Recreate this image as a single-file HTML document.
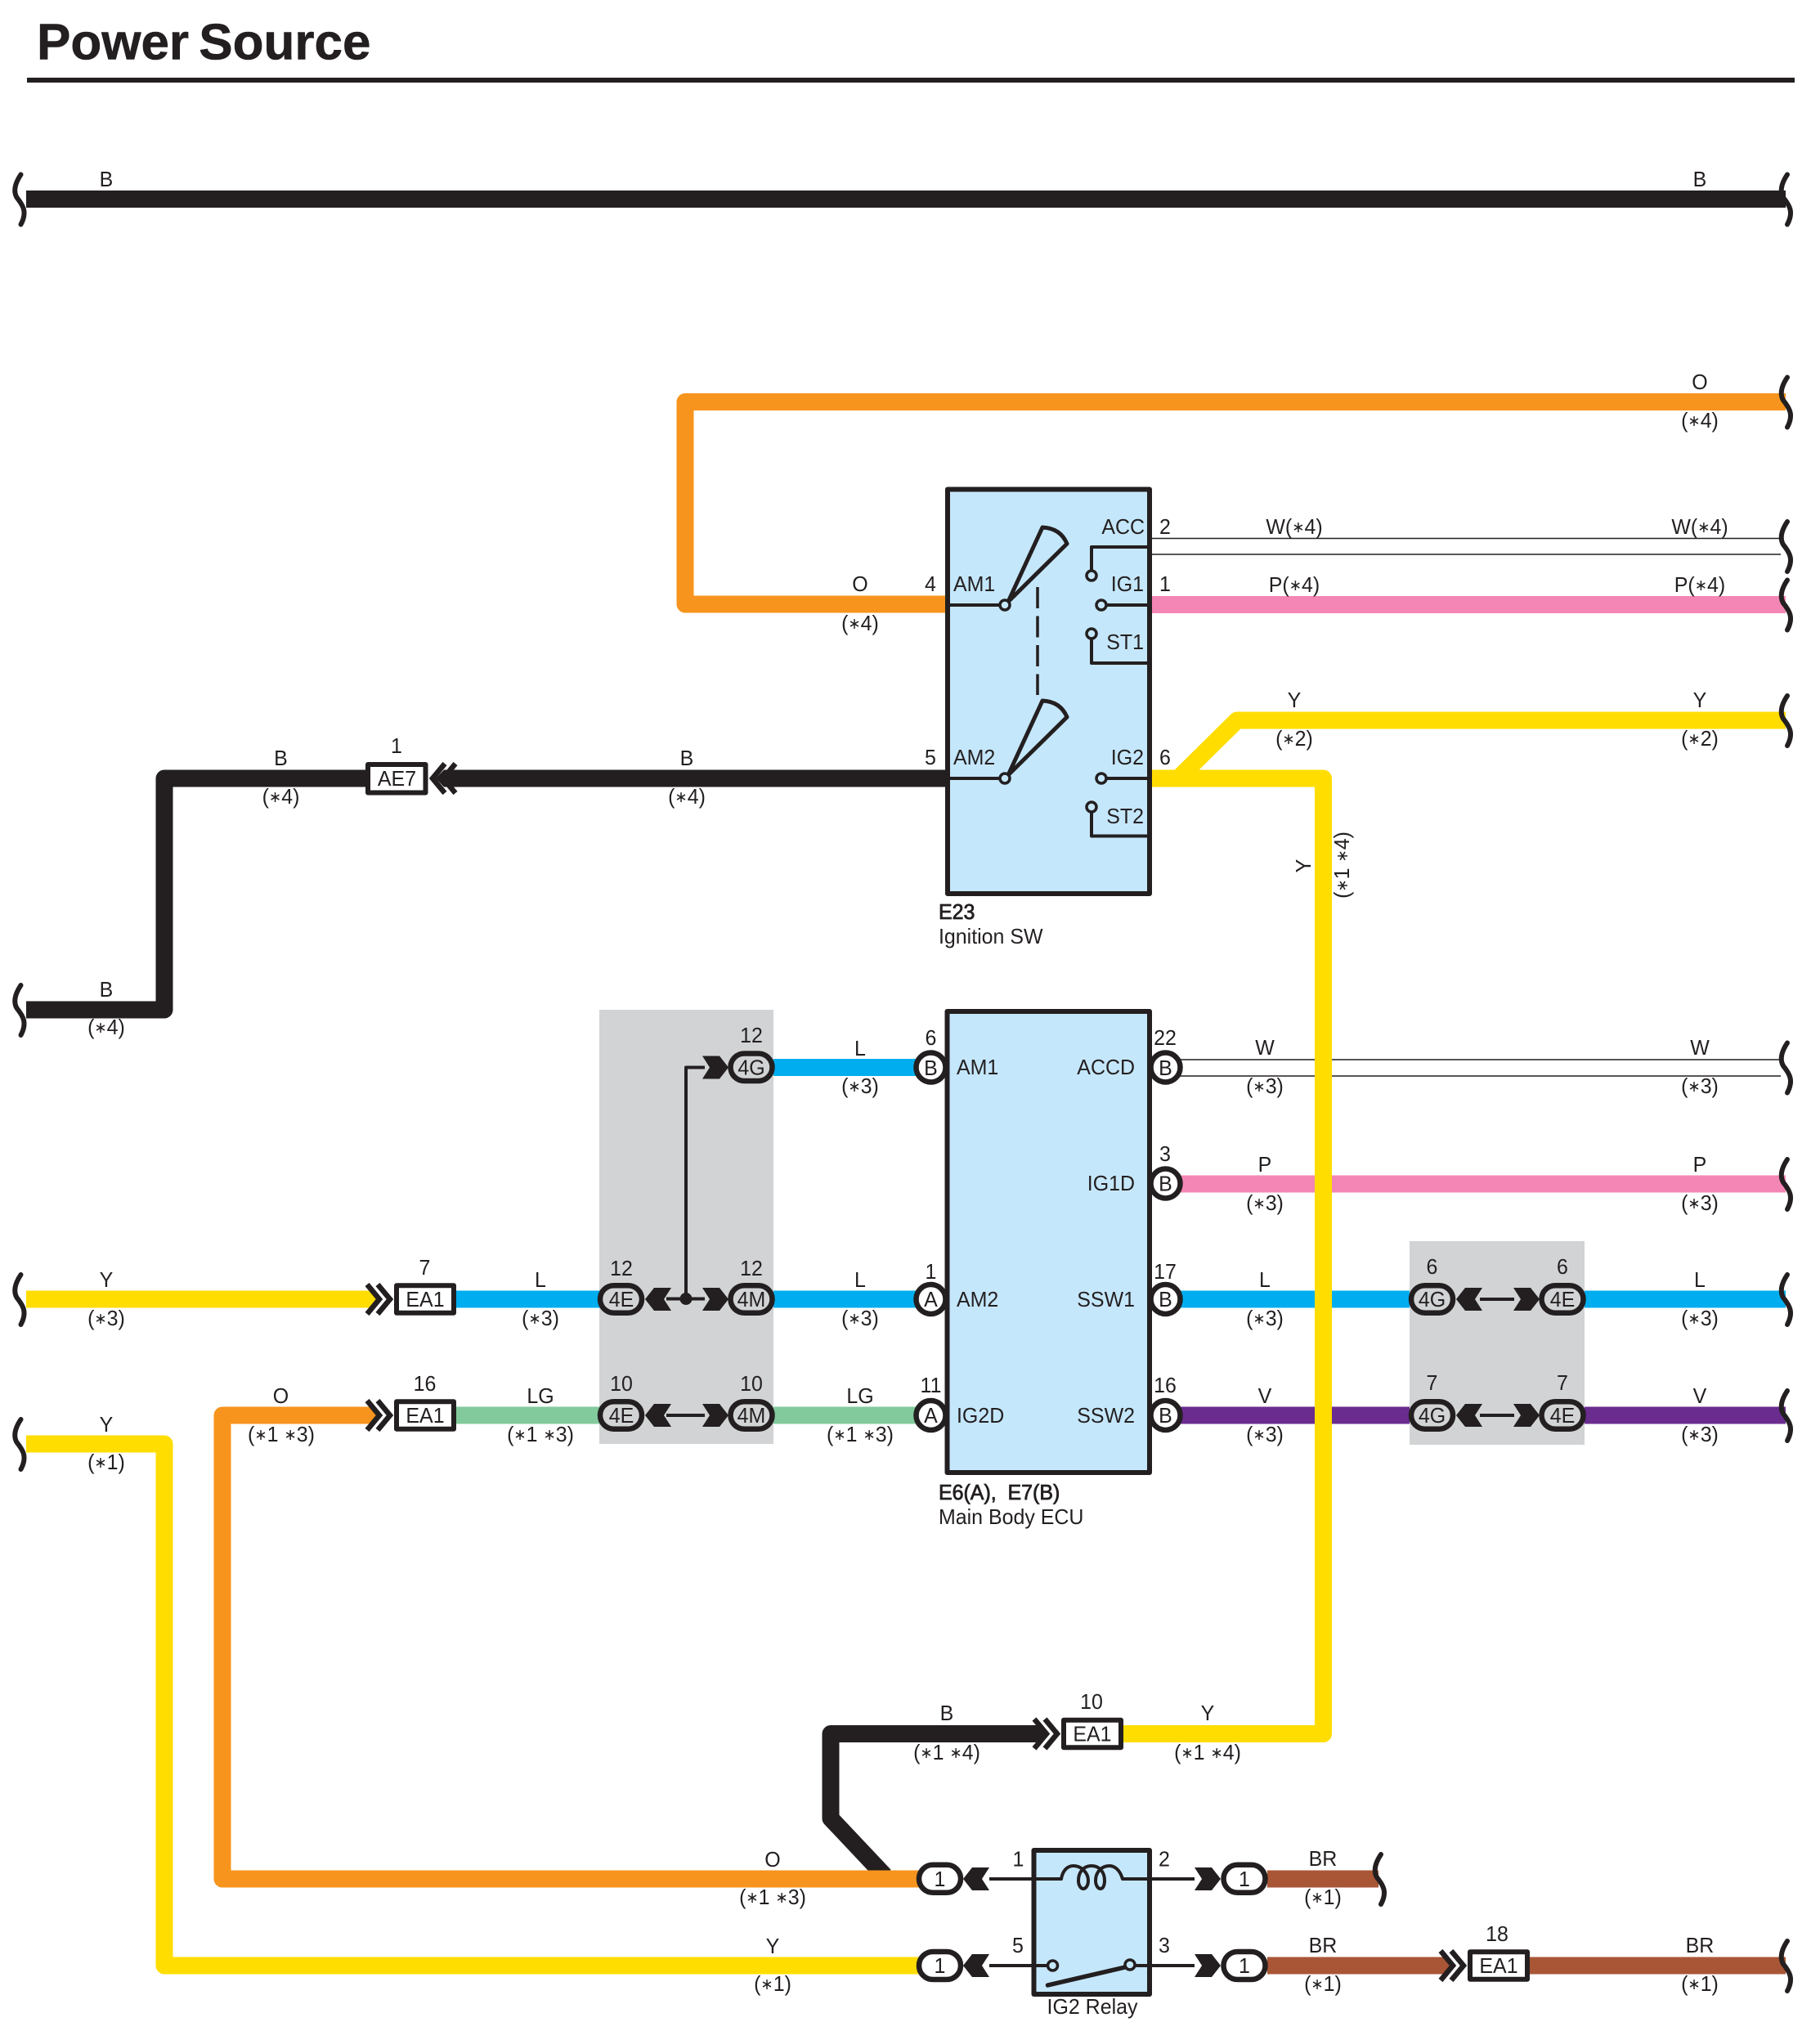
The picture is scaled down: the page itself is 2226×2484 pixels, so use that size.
<!DOCTYPE html>
<html><head><meta charset="utf-8"><title>Power Source</title>
<style>
html,body{margin:0;padding:0;background:#fff}
svg{display:block}
text{font-family:"Liberation Sans",sans-serif;font-size:26px;fill:#231f20;text-anchor:middle;transform-box:fill-box;transform-origin:center;transform:scaleX(.96)}
text.s{text-anchor:start;transform-origin:left center}
text.e{text-anchor:end;transform-origin:right center}
text.b{stroke:#231f20;stroke-width:.8px}
text.h{font-size:62px;font-weight:bold;text-anchor:start;transform:none;word-spacing:-5px;stroke:#231f20;stroke-width:.6px}
tspan.a{font-size:19px;baseline-shift:2px}
.w{fill:none;stroke-width:21;stroke-linejoin:round;stroke-linecap:butt}
.bk{stroke:#231f20}.or{stroke:#f7941d}.ye{stroke:#ffdd00}.bl{stroke:#00aeef}.pk{stroke:#f386b5}.lg{stroke:#82ca9c}.vi{stroke:#6a2c8f}.br{stroke:#a95636}
.l{fill:none;stroke:#231f20;stroke-width:4;stroke-linejoin:round}
.th{fill:none;stroke:#231f20;stroke-width:1.5}
.box{fill:#c5e7fb;stroke:#231f20;stroke-width:6;stroke-linejoin:round}
.c{fill:#c5e7fb;stroke:#231f20;stroke-width:3.5}
.ov{fill:#d1d3d4;stroke:#231f20;stroke-width:6.5}
.ow{fill:#fff;stroke:#231f20;stroke-width:6.5}
.pin{fill:#fff;stroke:#231f20;stroke-width:6.5}
.ea{fill:#fff;stroke:#231f20;stroke-width:6;stroke-linejoin:round}
</style></head><body>
<svg xmlns="http://www.w3.org/2000/svg" width="2226" height="2484" viewBox="0 0 2226 2484">
<defs>
<path id="sq" d="M0,-30C-8,-18 -9,-9 -5,-2C3,8 8,16 0,31" fill="none" stroke="#231f20" stroke-width="6" stroke-linecap="round"/>
<polygon id="ar" points="-32,-14 -11,-14 0,0 -11,14 -32,14 -23,0" fill="#231f20"/>
<polygon id="al" points="32,-14 11,-14 0,0 11,14 32,14 23,0" fill="#231f20"/>
<g id="cr" fill="none" stroke="#231f20" stroke-width="6.5"><polyline points="-33,-18 -18,0 -33,18"/><polyline points="-20,-18 -5,0 -20,18"/></g>
<g id="cl" fill="none" stroke="#231f20" stroke-width="6.5"><polyline points="33,-18 18,0 33,18"/><polyline points="20,-18 5,0 20,18"/></g>
<g id="blade" fill="none" stroke="#231f20" stroke-width="5" stroke-linejoin="round"><path d="M1233,736L1275,645Q1297,646 1305,665Z"/></g>
</defs>

<text class="h" x="45" y="72.5">Power Source</text>
<rect x="33" y="95" width="2162" height="6" fill="#231f20"/>

<!-- grey panels -->
<rect x="733" y="1235" width="213" height="531" fill="#d1d3d4"/>
<rect x="1724" y="1518" width="214" height="249" fill="#d1d3d4"/>

<!-- wires -->
<path class="w bk" d="M32,243.5H2184"/>
<path class="w or" d="M2184,491.5H838V739H1156"/>
<line class="th" x1="1409" y1="658.5" x2="2178" y2="658.5"/>
<line class="th" x1="1409" y1="678" x2="2178" y2="678"/>
<path class="w pk" d="M1409,739.5H2184"/>
<path class="w bk" d="M32,1235H201V952H447"/>
<path class="w bk" d="M546,952H1156"/>
<polygon points="546,941.5 543,941.5 533,952 543,962.5 546,962.5" fill="#231f20"/>
<line class="th" x1="1440" y1="1296" x2="2178" y2="1296"/>
<line class="th" x1="1440" y1="1316" x2="2178" y2="1316"/>
<path class="w pk" d="M1444,1448H2184"/>
<path class="w bl" d="M946,1305.5H1120"/>
<path class="w bl" d="M1440,1589H1724"/>
<path class="w bl" d="M1938,1589H2184"/>
<path class="w vi" d="M1440,1731H1724"/>
<path class="w vi" d="M1938,1731H2184"/>
<path class="w ye" d="M32,1589H450"/>
<polygon points="448,1578.5 451,1578.5 461.5,1589 451,1599.5 448,1599.5" fill="#ffdd00"/>
<path class="w bl" d="M557,1589H735"/>
<path class="w bl" d="M946,1589H1120"/>
<path class="w lg" d="M557,1731H735"/>
<path class="w lg" d="M946,1731H1120"/>
<path class="w bk" d="M1268,2120.5H1016V2224L1082,2294"/>
<polygon points="1264,2110 1267,2110 1277.5,2120.5 1267,2131 1264,2131" fill="#231f20"/>
<path class="w or" d="M450,1731H272V2298H1125"/>
<polygon points="448,1720.5 451,1720.5 461.5,1731 451,1741.5 448,1741.5" fill="#f7941d"/>
<path class="w ye" d="M32,1766H201V2404H1125"/>
<path class="w ye" d="M2184,881H1513L1441,952"/>
<path class="w ye" d="M1409,952H1618.5V2120.5H1373"/>
<path class="w br" d="M1550,2298H1686"/>
<path class="w br" d="M1550,2404H1765"/>
<polygon points="1763,2393.5 1766,2393.5 1776.5,2404 1766,2414.5 1763,2414.5" fill="#a95636"/>
<path class="w br" d="M1870,2404H2184"/>

<!-- squiggles -->
<use href="#sq" x="25.5" y="243.5"/><use href="#sq" x="25.5" y="1235"/><use href="#sq" x="25.5" y="1589"/><use href="#sq" x="25.5" y="1766"/>
<use href="#sq" x="2186" y="243.5"/><use href="#sq" x="2186" y="491.5"/><use href="#sq" x="2186" y="668"/><use href="#sq" x="2186" y="739.5"/><use href="#sq" x="2186" y="881"/><use href="#sq" x="2186" y="1305.5"/><use href="#sq" x="2186" y="1448"/><use href="#sq" x="2186" y="1589"/><use href="#sq" x="2186" y="1731"/><use href="#sq" x="2186" y="2404"/><use href="#sq" x="1689" y="2298"/>

<!-- Ignition SW -->
<rect class="box" x="1159" y="598.5" width="247" height="494.5"/>
<path class="l" d="M1159,740H1222M1354,740H1406M1159,952H1222M1354,952H1406M1406,669H1335V698M1335,781V811H1406M1335,993V1022.5H1406"/>
<use href="#blade"/><use href="#blade" y="212"/>
<line x1="1269" y1="718" x2="1269" y2="850" stroke="#231f20" stroke-width="3.5" stroke-dasharray="26 9.5"/>
<circle class="c" cx="1229" cy="740" r="6"/><circle class="c" cx="1229" cy="952" r="6"/>
<circle class="c" cx="1335" cy="704" r="6"/><circle class="c" cx="1347" cy="740" r="6"/><circle class="c" cx="1335" cy="775" r="6"/>
<circle class="c" cx="1347" cy="952" r="6"/><circle class="c" cx="1335" cy="987" r="6"/>
<text class="s" x="1166" y="723">AM1</text><text class="s" x="1166" y="935">AM2</text>
<text class="e" x="1400" y="653">ACC</text><text class="e" x="1399" y="723">IG1</text><text class="e" x="1399" y="794">ST1</text><text class="e" x="1399" y="935">IG2</text><text class="e" x="1399" y="1007">ST2</text>
<text x="1138" y="723">4</text><text x="1138" y="935">5</text><text x="1425" y="653">2</text><text x="1425" y="723">1</text><text x="1425" y="935">6</text>
<text class="s b" x="1148" y="1124">E23</text><text class="s" x="1148" y="1154">Ignition SW</text>

<!-- Main Body ECU -->
<rect class="box" x="1158.5" y="1237" width="247.5" height="564"/>
<circle class="pin" cx="1138.5" cy="1305.5" r="18"/><circle class="pin" cx="1138.5" cy="1589" r="18"/><circle class="pin" cx="1138.5" cy="1731" r="18"/>
<circle class="pin" cx="1425.5" cy="1305.5" r="18"/><circle class="pin" cx="1425.5" cy="1447.5" r="18"/><circle class="pin" cx="1425.5" cy="1589" r="18"/><circle class="pin" cx="1425.5" cy="1731" r="18"/>
<text x="1138.5" y="1315">B</text><text x="1138.5" y="1598">A</text><text x="1138.5" y="1740">A</text>
<text x="1425.5" y="1315">B</text><text x="1425.5" y="1456.5">B</text><text x="1425.5" y="1598">B</text><text x="1425.5" y="1740">B</text>
<text class="s" x="1170" y="1314">AM1</text><text class="s" x="1170" y="1598">AM2</text><text class="s" x="1170" y="1740">IG2D</text>
<text class="e" x="1388" y="1314">ACCD</text><text class="e" x="1388" y="1456">IG1D</text><text class="e" x="1388" y="1598">SSW1</text><text class="e" x="1388" y="1740">SSW2</text>
<text x="1138.5" y="1278">6</text><text x="1138.5" y="1564">1</text><text x="1138.5" y="1703">11</text>
<text x="1425" y="1278">22</text><text x="1425" y="1420">3</text><text x="1425" y="1564">17</text><text x="1425" y="1703">16</text>
<text class="s b" x="1148" y="1834">E6(A),&#160; E7(B)</text><text class="s" x="1148" y="1864">Main Body ECU</text>

<!-- left junction panel -->
<path class="l" d="M839,1588.5V1305.5H862M815,1588.5H862M815,1731H862"/>
<circle cx="839" cy="1588.5" r="7.5" fill="#231f20"/>
<use href="#ar" x="891" y="1305.5"/><use href="#ar" x="891" y="1589"/><use href="#ar" x="891" y="1731"/>
<use href="#al" x="789" y="1589"/><use href="#al" x="789" y="1731"/>
<rect class="ov" x="893.5" y="1288.5" width="51" height="33.5" rx="16.7"/><rect class="ov" x="893.5" y="1572.2" width="51" height="33.5" rx="16.7"/><rect class="ov" x="893.5" y="1714.2" width="51" height="33.5" rx="16.7"/>
<rect class="ov" x="734" y="1572.2" width="51" height="33.5" rx="16.7"/><rect class="ov" x="734" y="1714.2" width="51" height="33.5" rx="16.7"/>
<text x="919" y="1314.5">4G</text><text x="919" y="1598">4M</text><text x="919" y="1740">4M</text><text x="760" y="1598">4E</text><text x="760" y="1740">4E</text>
<text x="919" y="1275">12</text><text x="919" y="1560">12</text><text x="760" y="1560">12</text><text x="919" y="1701">10</text><text x="760" y="1701">10</text>

<!-- right junction panel -->
<path class="l" d="M1810,1589H1852M1810,1731H1852"/>
<use href="#al" x="1781" y="1589"/><use href="#al" x="1781" y="1731"/><use href="#ar" x="1883" y="1589"/><use href="#ar" x="1883" y="1731"/>
<rect class="ov" x="1726" y="1572.2" width="51" height="33.5" rx="16.7"/><rect class="ov" x="1726" y="1714.2" width="51" height="33.5" rx="16.7"/>
<rect class="ov" x="1885.5" y="1572.2" width="51" height="33.5" rx="16.7"/><rect class="ov" x="1885.5" y="1714.2" width="51" height="33.5" rx="16.7"/>
<text x="1751.5" y="1598">4G</text><text x="1751.5" y="1740">4G</text><text x="1911" y="1598">4E</text><text x="1911" y="1740">4E</text>
<text x="1751.5" y="1558">6</text><text x="1911" y="1558">6</text><text x="1751.5" y="1700">7</text><text x="1911" y="1700">7</text>

<!-- inline connectors -->
<use href="#cl" x="524" y="952"/>
<rect class="ea" x="450" y="935" width="70.5" height="34.5"/><text x="485.5" y="961">AE7</text><text x="485" y="921">1</text>
<use href="#cr" x="482" y="1589"/>
<rect class="ea" x="485" y="1572.3" width="70" height="33.5"/><text x="520" y="1598">EA1</text><text x="519.5" y="1559">7</text>
<use href="#cr" x="482" y="1731"/>
<rect class="ea" x="485" y="1714.3" width="70" height="33.5"/><text x="520" y="1740">EA1</text><text x="519.5" y="1701">16</text>
<use href="#cr" x="1298" y="2120.5"/>
<rect class="ea" x="1301" y="2103.8" width="70" height="33.5"/><text x="1336" y="2129.5">EA1</text><text x="1335" y="2090">10</text>
<use href="#cr" x="1795" y="2404"/>
<rect class="ea" x="1798" y="2387.3" width="70" height="33.5"/><text x="1833" y="2413">EA1</text><text x="1831" y="2374">18</text>

<!-- IG2 relay -->
<rect class="box" x="1264.5" y="2263" width="141.5" height="176"/>
<path class="l" d="M1210,2298H1298C1300,2286 1307,2282 1313,2282C1322,2282 1331,2290 1331,2300C1331,2306 1328,2310 1325,2310C1322,2310 1319,2306 1319,2300C1319,2290 1325,2282 1335,2282C1345,2282 1351,2290 1351,2300C1351,2306 1349,2310 1346,2310C1343,2310 1340,2306 1340,2300C1340,2290 1347,2282 1357,2282C1364,2282 1370,2288 1373,2298H1461"/>
<path class="l" d="M1210,2404H1281M1388,2404H1461"/>
<line x1="1281.5" y1="2428" x2="1376" y2="2406" stroke="#231f20" stroke-width="5.5" stroke-linecap="round"/>
<circle class="c" cx="1287.5" cy="2404" r="6"/><circle class="c" cx="1382" cy="2403" r="6"/>
<use href="#al" x="1178" y="2298"/><use href="#al" x="1178" y="2404"/><use href="#ar" x="1493" y="2298"/><use href="#ar" x="1493" y="2404"/>
<rect class="ow" x="1124" y="2280.8" width="51" height="34" rx="17"/><rect class="ow" x="1124" y="2387" width="51" height="34" rx="17"/>
<rect class="ow" x="1496.5" y="2280.8" width="51" height="34" rx="17"/><rect class="ow" x="1496.5" y="2387" width="51" height="34" rx="17"/>
<text x="1149.5" y="2307">1</text><text x="1149.5" y="2413">1</text><text x="1522" y="2307">1</text><text x="1522" y="2413">1</text>
<text x="1245.5" y="2282.5">1</text><text x="1424" y="2282.5">2</text><text x="1245" y="2388">5</text><text x="1424" y="2388">3</text>
<text x="1336" y="2463">IG2 Relay</text>

<!-- wire labels -->
<text x="130" y="228">B</text><text x="2079" y="228">B</text>
<text x="2079" y="476">O</text><text x="2079" y="523">(<tspan class="a">∗</tspan>4)</text>
<text x="1052" y="723">O</text><text x="1052" y="771">(<tspan class="a">∗</tspan>4)</text>
<text x="1583" y="653">W(<tspan class="a">∗</tspan>4)</text><text x="2079" y="653">W(<tspan class="a">∗</tspan>4)</text>
<text x="1583" y="724">P(<tspan class="a">∗</tspan>4)</text><text x="2079" y="724">P(<tspan class="a">∗</tspan>4)</text>
<text x="1583" y="865">Y</text><text x="1583" y="912">(<tspan class="a">∗</tspan>2)</text><text x="2079" y="865">Y</text><text x="2079" y="912">(<tspan class="a">∗</tspan>2)</text>
<text x="343.5" y="936">B</text><text x="343.5" y="983">(<tspan class="a">∗</tspan>4)</text><text x="840" y="936">B</text><text x="840" y="983">(<tspan class="a">∗</tspan>4)</text>
<text x="130" y="1219">B</text><text x="130" y="1265">(<tspan class="a">∗</tspan>4)</text>
<g transform="translate(1603,1059) rotate(-90)"><text x="0" y="0">Y</text></g>
<g transform="translate(1650,1058) rotate(-90)"><text x="0" y="0">(<tspan class="a">∗</tspan>1 <tspan class="a">∗</tspan>4)</text></g>
<text x="1052" y="1291">L</text><text x="1052" y="1337">(<tspan class="a">∗</tspan>3)</text>
<text x="1052" y="1574">L</text><text x="1052" y="1621">(<tspan class="a">∗</tspan>3)</text>
<text x="1052" y="1716">LG</text><text x="1052" y="1763">(<tspan class="a">∗</tspan>1 <tspan class="a">∗</tspan>3)</text>
<text x="661" y="1574">L</text><text x="661" y="1621">(<tspan class="a">∗</tspan>3)</text>
<text x="661" y="1716">LG</text><text x="661" y="1763">(<tspan class="a">∗</tspan>1 <tspan class="a">∗</tspan>3)</text>
<text x="130" y="1574">Y</text><text x="130" y="1621">(<tspan class="a">∗</tspan>3)</text>
<text x="343.5" y="1716">O</text><text x="344" y="1763">(<tspan class="a">∗</tspan>1 <tspan class="a">∗</tspan>3)</text>
<text x="130" y="1751">Y</text><text x="130" y="1797">(<tspan class="a">∗</tspan>1)</text>
<text x="1547" y="1290">W</text><text x="1547" y="1337">(<tspan class="a">∗</tspan>3)</text><text x="2079" y="1290">W</text><text x="2079" y="1337">(<tspan class="a">∗</tspan>3)</text>
<text x="1547" y="1433">P</text><text x="1547" y="1480">(<tspan class="a">∗</tspan>3)</text><text x="2079" y="1433">P</text><text x="2079" y="1480">(<tspan class="a">∗</tspan>3)</text>
<text x="1547" y="1574">L</text><text x="1547" y="1621">(<tspan class="a">∗</tspan>3)</text><text x="2079" y="1574">L</text><text x="2079" y="1621">(<tspan class="a">∗</tspan>3)</text>
<text x="1547" y="1716">V</text><text x="1547" y="1763">(<tspan class="a">∗</tspan>3)</text><text x="2079" y="1716">V</text><text x="2079" y="1763">(<tspan class="a">∗</tspan>3)</text>
<text x="1158" y="2104">B</text><text x="1158" y="2152">(<tspan class="a">∗</tspan>1 <tspan class="a">∗</tspan>4)</text>
<text x="1477" y="2104">Y</text><text x="1477" y="2152">(<tspan class="a">∗</tspan>1 <tspan class="a">∗</tspan>4)</text>
<text x="945" y="2283">O</text><text x="945" y="2329">(<tspan class="a">∗</tspan>1 <tspan class="a">∗</tspan>3)</text>
<text x="945" y="2389">Y</text><text x="945" y="2435">(<tspan class="a">∗</tspan>1)</text>
<text x="1618" y="2282">BR</text><text x="1618" y="2329">(<tspan class="a">∗</tspan>1)</text>
<text x="1618" y="2388">BR</text><text x="1618" y="2435">(<tspan class="a">∗</tspan>1)</text>
<text x="2079" y="2388">BR</text><text x="2079" y="2435">(<tspan class="a">∗</tspan>1)</text>
</svg>
</body></html>
